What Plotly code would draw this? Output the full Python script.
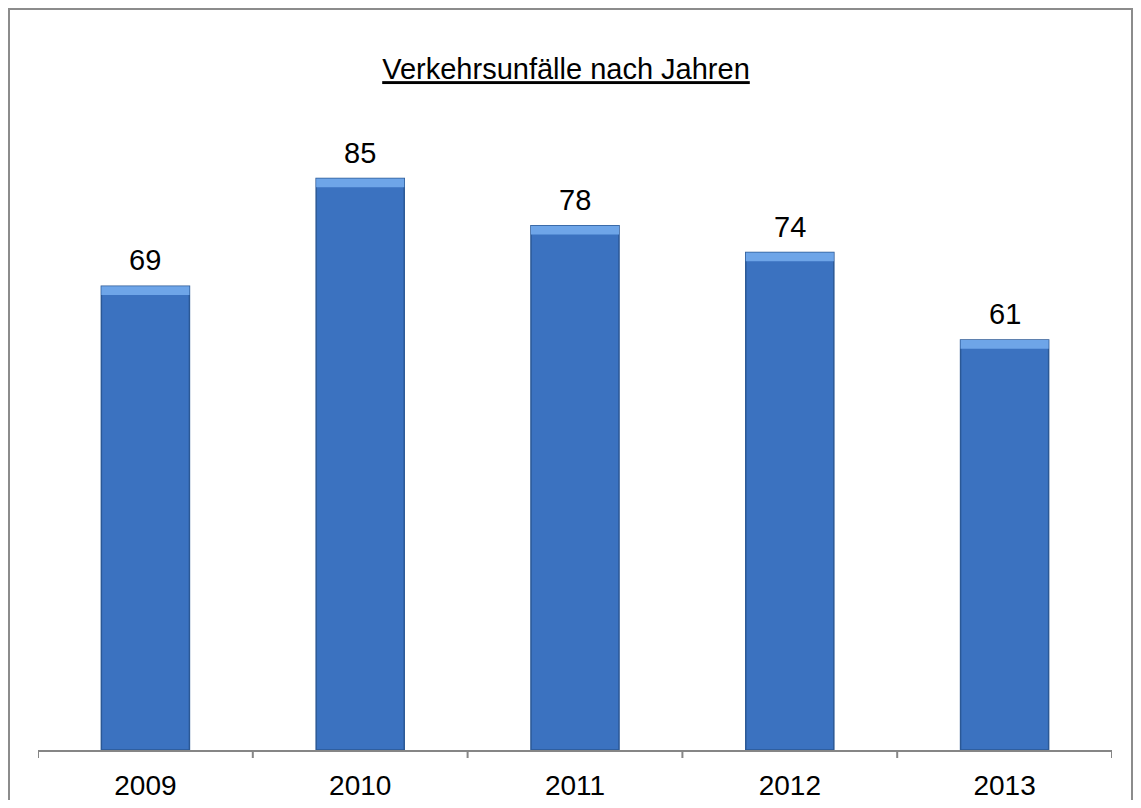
import plotly.graph_objects as go

years = ["2009", "2010", "2011", "2012", "2013"]
accidents = [69, 85, 78, 74, 61]
title_text = "Verkehrsunfälle nach Jahren"

# page body has an 8px margin, so figure coords = reference coords - 8
OFF = 8
W, H = 1125, 792
L, R, T, B = 38 - OFF, W - (1112 - OFF), 145 - OFF, H - (750 - OFF)
YMAX = 90
PW, PH = W - L - R, H - T - B
FONT = "Liberation Sans, Arial"

fig = go.Figure()
fig.add_trace(go.Bar(
    x=years, y=accidents,
    marker=dict(color="#3b72c0", line=dict(color="#2b5895", width=1.5)),
    hoverinfo="skip",
))
# top bevel highlight
fig.add_trace(go.Bar(
    x=years, y=[1.3] * len(accidents), base=[v - 1.3 for v in accidents],
    marker=dict(color="#6ea5e8", line=dict(width=0)),
    hoverinfo="skip",
))

# value labels (category index positions)
for i, v in enumerate(accidents):
    fig.add_annotation(x=i, y=v, xref="x", yref="y", text=str(v), showarrow=False,
                       xanchor="center", yanchor="bottom", yshift=8,
                       font=dict(family=FONT, size=29, color="#000000"))

fig.update_layout(
    width=W, height=H,
    margin=dict(l=L, r=R, t=T, b=B, pad=0, autoexpand=False),
    paper_bgcolor="white", plot_bgcolor="white",
    barmode="overlay", bargap=0.59, showlegend=False,
    title=dict(text="<u>" + title_text + "</u>", x=(566 - OFF) / W, xanchor="center",
               xref="container", y=1 - (69 - OFF) / H, yanchor="middle", yref="container",
               font=dict(family=FONT, size=29, color="#000000")),
    xaxis=dict(type="category", categoryorder="array", categoryarray=years,
               range=[-0.5, len(years) - 0.5],
               showline=True, linecolor="#868686", linewidth=2,
               ticks="", showgrid=False, zeroline=False, automargin=False,
               tickfont=dict(family=FONT, size=28, color="#000000"),
               ticklabelstandoff=9),
    yaxis=dict(range=[0, YMAX], visible=False, showgrid=False, zeroline=False,
               automargin=False),
)

# category boundary ticks (Excel style, between categories)
n = len(years)
for i in range(n + 1):
    fig.add_shape(type="line", xref="x", yref="paper",
                  x0=i - 0.5, x1=i - 0.5, y0=0, y1=-8 / PH,
                  line=dict(color="#868686", width=2))

# chart border
fig.add_shape(type="rect", xref="paper", yref="paper",
              x0=-(L - (9 - OFF)) / PW, x1=1 + (R - 1) / PW,
              y0=-(B + 20) / PH, y1=1 + (T - (9 - OFF)) / PH,
              line=dict(color="#8c8c8c", width=2), fillcolor="rgba(0,0,0,0)", layer="below")

fig.write_html("out.html")
